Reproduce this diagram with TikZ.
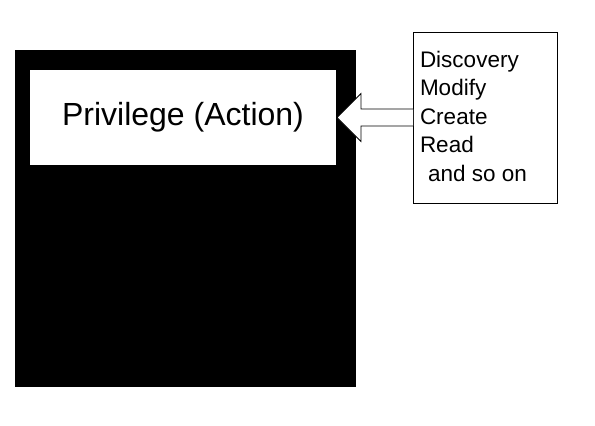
\documentclass[tikz,border=0pt]{standalone}
\usepackage{fontspec}
\setmainfont{Liberation Sans}
\usetikzlibrary{calc}
\begin{document}
\begin{tikzpicture}[x=1pt,y=-1pt,
  box/.style={inner sep=0pt,outer sep=0pt,anchor=north west},
  arrowshape/.style={draw=black,fill=white,line width=0.8pt,line join=miter}]
\useasboundingbox (0,0) rectangle (595,426);
\node[box,fill=black,minimum width=341pt,minimum height=337pt] (outer) at (15,50) {};
\node[box,fill=white,minimum width=306pt,minimum height=95pt,
      font=\fontsize{32}{38}\selectfont] (priv) at (30,70) {Privilege (Action)};
\node[box,draw=black,line width=0.8pt,minimum width=144pt,minimum height=171pt] (list) at (413,32) {};
\node[box,align=left,font=\fontsize{22.5}{28.5}\selectfont] (items) at (420,51)
  {Discovery\\Modify\\Create\\Read\\\hspace*{8pt}and so on};
\draw[arrowshape]
  ($(list.west)+(0,-8.5)$) -- ($(priv.east)+(25,-8.5)$) -- ($(priv.east)+(25,-24)$)
  -- ($(priv.east)+(1,0)$) -- ($(priv.east)+(25,24)$) -- ($(priv.east)+(25,8.5)$)
  -- ($(list.west)+(0,8.5)$);
\end{tikzpicture}
\end{document}
